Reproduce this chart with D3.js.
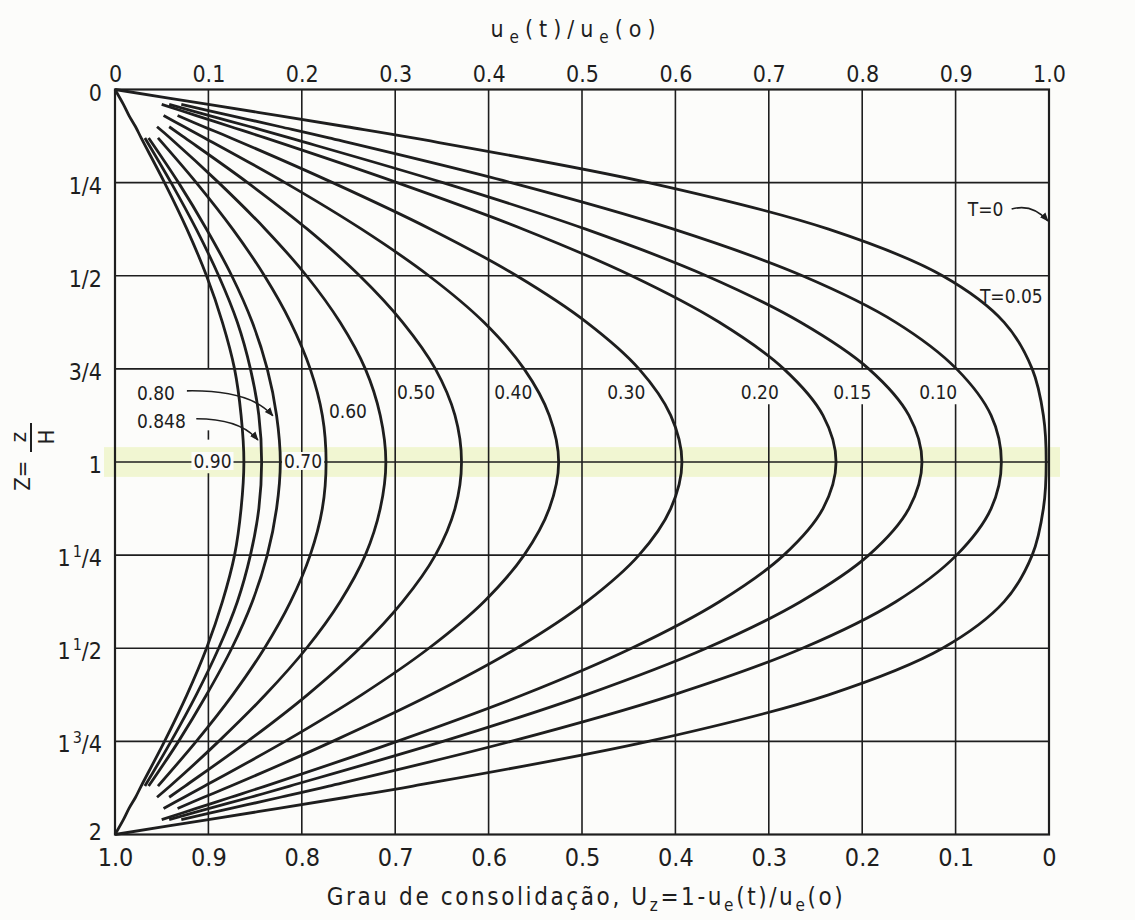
<!DOCTYPE html>
<html>
<head>
<meta charset="utf-8">
<script src="https://cdn.jsdelivr.net/npm/d3@7"></script>
<style>
  body { margin: 0; background: #fcfcfa; }
  svg { display: block; }
  text { font-family: "DejaVu Sans Condensed", "DejaVu Sans", sans-serif; fill: #1e1e1e; }
</style>
</head>
<body>
<svg id="chart" width="1135" height="920"></svg>
<script>
// depth levels Z = z/H where the isochrones were read
const zLevels = [0, 0.04, 0.07, 0.1, 0.13, 0.25, 0.375, 0.5, 0.625, 0.75, 0.875, 1,
  1.125, 1.25, 1.375, 1.5, 1.625, 1.75, 1.87, 1.9, 1.93, 1.96, 2];

// u_e(t)/u_e(o) read off each isochrone (null = curve not drawn there)
const u005 = [0, 0.100, 0.175, 0.248, 0.319, 0.571, 0.764, 0.886, 0.952, 0.982, 0.994, 0.997,
  0.994, 0.982, 0.952, 0.886, 0.764, 0.571, 0.319, 0.248, 0.175, 0.100, 0];
const u010 = [null, 0.071, 0.124, 0.177, 0.229, 0.424, 0.598, 0.736, 0.836, 0.901, 0.938, 0.949,
  0.938, 0.901, 0.836, 0.736, 0.598, 0.424, 0.229, 0.177, 0.124, 0.071, null];
const u015 = [null, 0.058, 0.101, 0.145, 0.187, 0.351, 0.504, 0.633, 0.734, 0.807, 0.850, 0.864,
  0.850, 0.807, 0.734, 0.633, 0.504, 0.351, 0.187, 0.145, 0.101, 0.058, null];
const u020 = [null, 0.050, 0.087, 0.124, 0.161, 0.302, 0.437, 0.553, 0.647, 0.716, 0.758, 0.772,
  0.758, 0.716, 0.647, 0.553, 0.437, 0.302, 0.161, 0.124, 0.087, 0.050, null];
const u030 = [null, null, 0.067, 0.095, 0.124, 0.233, 0.338, 0.430, 0.505, 0.561, 0.595, 0.607,
  0.595, 0.561, 0.505, 0.430, 0.338, 0.233, 0.124, 0.095, 0.067, null, null];
const u040 = [null, null, 0.052, 0.074, 0.096, 0.182, 0.264, 0.336, 0.395, 0.438, 0.465, 0.475,
  0.465, 0.438, 0.395, 0.336, 0.264, 0.182, 0.096, 0.074, 0.052, null, null];
const u050 = [null, null, null, 0.058, 0.075, 0.142, 0.206, 0.262, 0.308, 0.343, 0.364, 0.371,
  0.364, 0.343, 0.308, 0.262, 0.206, 0.142, 0.075, 0.058, null, null, null];
const u060 = [null, null, null, 0.045, 0.059, 0.111, 0.161, 0.205, 0.241, 0.268, 0.284, 0.290,
  0.284, 0.268, 0.241, 0.205, 0.161, 0.111, 0.059, 0.045, null, null, null];
const u070 = [null, null, null, null, 0.046, 0.087, 0.126, 0.160, 0.188, 0.209, 0.222, 0.226,
  0.222, 0.209, 0.188, 0.160, 0.126, 0.087, 0.046, null, null, null, null];
const u080 = [null, null, null, null, 0.036, 0.068, 0.098, 0.125, 0.147, 0.163, 0.173, 0.177,
  0.173, 0.163, 0.147, 0.125, 0.098, 0.068, 0.036, null, null, null, null];
const u0848 = [null, null, null, null, 0.032, 0.060, 0.087, 0.111, 0.131, 0.145, 0.154, 0.157,
  0.154, 0.145, 0.131, 0.111, 0.087, 0.060, 0.032, null, null, null, null];
const u090 = [0, 0.009, 0.015, 0.022, 0.028, 0.053, 0.077, 0.098, 0.115, 0.128, 0.135, 0.138,
  0.135, 0.128, 0.115, 0.098, 0.077, 0.053, 0.028, 0.022, 0.015, 0.009, 0];

const timeFactors = ["0.05", "0.10", "0.15", "0.20", "0.30", "0.40", "0.50", "0.60", "0.70", "0.80", "0.848", "0.90"];
const isoValues = [u005, u010, u015, u020, u030, u040, u050, u060, u070, u080, u0848, u090];

// axes
const topTicks = [0, 0.1, 0.2, 0.3, 0.4, 0.5, 0.6, 0.7, 0.8, 0.9, 1.0];
const zTicks = [0, 0.25, 0.5, 0.75, 1, 1.25, 1.5, 1.75, 2];
const zTickLabels = ["0", "1/4", "1/2", "3/4", "1", "1 1/4", "1 1/2", "1 3/4", "2"];

const svg = d3.select("#chart");
const ink = "#1e1e1e";

const x = d3.scaleLinear().domain([0, 1]).range([115, 1049]);
const xU = d3.scaleLinear().domain([1, 0]).range([115, 1049]); // U_z = 1 - u
const y = d3.scaleLinear().domain([0, 2]).range([89.5, 834.5]);

// highlighter mark across Z = 1 on the scanned page
svg.append("rect")
  .attr("x", 104).attr("width", 956)
  .attr("y", y(0.96)).attr("height", y(1.04) - y(0.96))
  .attr("fill", "#eef4c4").attr("opacity", 0.75);

// gaps in the vertical grid left for the labels
const gridGaps = [
  { u: 0.1, z: [0.75, 0.915] }, { u: 0.1, z: [0.94, 1.03] },
  { u: 0.7, z: [0.75, 0.845] }, { u: 0.8, z: [0.75, 0.845] }, { u: 0.9, z: [0.75, 0.845] }
];

const grid = svg.append("g").attr("stroke", ink).attr("stroke-width", 1.6);

topTicks.slice(1, -1).forEach(u => {
  let segs = [[0, 2]];
  gridGaps.filter(g => g.u === u).forEach(g => {
    segs = segs.flatMap(([a, b]) => {
      if (g.z[1] <= a || g.z[0] >= b) return [[a, b]];
      const out = [];
      if (g.z[0] > a) out.push([a, g.z[0]]);
      if (g.z[1] < b) out.push([g.z[1], b]);
      return out;
    });
  });
  segs.forEach(([a, b]) => {
    grid.append("line")
      .attr("x1", x(u)).attr("x2", x(u))
      .attr("y1", y(a)).attr("y2", y(b));
  });
});

zTicks.slice(1, -1).forEach(z => {
  grid.append("line")
    .attr("x1", x(0)).attr("x2", x(1))
    .attr("y1", y(z)).attr("y2", y(z));
});

svg.append("rect")
  .attr("x", x(0)).attr("y", y(0))
  .attr("width", x(1) - x(0)).attr("height", y(2) - y(0))
  .attr("fill", "none").attr("stroke", ink).attr("stroke-width", 2.2);

// isochrones
const line = d3.line()
  .defined(d => d.u != null)
  .x(d => x(d.u))
  .y(d => y(d.z))
  .curve(d3.curveCatmullRom.alpha(0.5));

svg.append("g")
  .selectAll("path")
  .data(isoValues.map((vals, i) => ({ T: timeFactors[i], pts: zLevels.map((z, j) => ({ z, u: vals[j] })) })))
  .join("path")
  .attr("d", d => line(d.pts))
  .attr("fill", "none")
  .attr("stroke", ink)
  .attr("stroke-width", 2.8)
  .attr("stroke-linejoin", "round");

// top axis u_e(t)/u_e(o)
const fmt = d => d === 0 ? "0" : d.toFixed(1);
svg.append("g")
  .attr("transform", `translate(0,${y(0)})`)
  .call(d3.axisTop(x).tickValues(topTicks).tickSize(0).tickPadding(8).tickFormat(fmt))
  .call(g => g.select(".domain").remove())
  .attr("font-family", null).attr("font-size", 23).attr("color", ink);

// bottom axis U_z
svg.append("g")
  .attr("transform", `translate(0,${y(2)})`)
  .call(d3.axisBottom(xU).tickValues(topTicks).tickSize(0).tickPadding(14).tickFormat(fmt))
  .call(g => g.select(".domain").remove())
  .attr("font-family", null).attr("font-size", 25).attr("color", ink);

// left axis Z labels with mixed fractions
const zLab = svg.append("g").attr("font-size", 23).attr("text-anchor", "end");
zTicks.forEach((z, i) => {
  const parts = zTickLabels[i].split(" ");
  const t = zLab.append("text")
    .attr("x", 102)
    .attr("y", y(z) + (i === zTicks.length - 1 ? 5 : 11));
  if (parts.length === 1) {
    t.text(parts[0]);
  } else {
    const [num, den] = parts[1].split("/");
    t.append("tspan").text(parts[0]);
    t.append("tspan").attr("font-size", 16).attr("dy", -9).attr("dx", 2).text(num);
    t.append("tspan").attr("dy", 9).text("/" + den);
  }
});

// axis titles
const topTitle = svg.append("text")
  .attr("x", 576).attr("y", 37)
  .attr("text-anchor", "middle")
  .attr("font-size", 23)
  .attr("letter-spacing", 6);
topTitle.append("tspan").text("u");
topTitle.append("tspan").attr("font-size", 17).attr("dy", 6).text("e");
topTitle.append("tspan").attr("dy", -6).text("(t)/u");
topTitle.append("tspan").attr("font-size", 17).attr("dy", 6).text("e");
topTitle.append("tspan").attr("dy", -6).text("(o)");

const botTitle = svg.append("text")
  .attr("x", 586).attr("y", 905)
  .attr("text-anchor", "middle")
  .attr("font-size", 24)
  .attr("letter-spacing", 2.6);
botTitle.append("tspan").text("Grau de consolidação, U");
botTitle.append("tspan").attr("font-size", 17).attr("dy", 6).text("z");
botTitle.append("tspan").attr("dy", -6).text("=1-u");
botTitle.append("tspan").attr("font-size", 17).attr("dy", 6).text("e");
botTitle.append("tspan").attr("dy", -6).text("(t)/u");
botTitle.append("tspan").attr("font-size", 17).attr("dy", 6).text("e");
botTitle.append("tspan").attr("dy", -6).text("(o)");

// Z = z/H, rotated
const yTitle = svg.append("g").attr("transform", "translate(31,470) rotate(-90)").attr("font-size", 22);
yTitle.append("text").attr("x", -14).attr("y", -1).attr("text-anchor", "middle").text("Z");
yTitle.append("text").attr("x", 1).attr("y", -1).attr("text-anchor", "middle").text("=");
yTitle.append("line").attr("x1", 18).attr("x2", 47).attr("y1", 0).attr("y2", 0)
  .attr("stroke", ink).attr("stroke-width", 2);
yTitle.append("text").attr("x", 33).attr("y", -5).attr("text-anchor", "middle").text("z");
yTitle.append("text").attr("x", 33).attr("y", 23).attr("text-anchor", "middle").text("H");

// curve labels, placed in data units
const labelSpots = [
  { text: "T=0", u: 0.913, z: 0.34 },
  { text: "T=0.05", u: 0.926, z: 0.573 },
  { text: "0.10", u: 0.861, z: 0.83 },
  { text: "0.15", u: 0.769, z: 0.83 },
  { text: "0.20", u: 0.670, z: 0.83 },
  { text: "0.30", u: 0.527, z: 0.83 },
  { text: "0.40", u: 0.406, z: 0.83 },
  { text: "0.50", u: 0.302, z: 0.83 },
  { text: "0.60", u: 0.229, z: 0.881 },
  { text: "0.80", u: 0.0235, z: 0.834 },
  { text: "0.848", u: 0.0235, z: 0.909 },
  { text: "0.70", u: 0.181, z: 1.016, halo: true },
  { text: "0.90", u: 0.084, z: 1.016, halo: true }
];

const labs = svg.append("g").attr("font-size", 19);
labelSpots.forEach(d => {
  const t = labs.append("text")
    .attr("x", x(d.u)).attr("y", y(d.z))
    .text(d.text);
  if (d.halo) {
    const b = t.node().getBBox();
    labs.insert("rect", () => t.node())
      .attr("x", b.x - 2).attr("y", b.y + 2)
      .attr("width", b.width + 4).attr("height", b.height - 4)
      .attr("fill", "#fcfcfa");
  }
});

// arrows pointing labels to their curves
svg.append("defs").append("marker")
  .attr("id", "head")
  .attr("viewBox", "0 0 10 10")
  .attr("refX", 9).attr("refY", 5)
  .attr("markerWidth", 9).attr("markerHeight", 9)
  .attr("markerUnits", "userSpaceOnUse")
  .attr("orient", "auto")
  .append("path").attr("d", "M0,1 L10,5 L0,9 Z").attr("fill", ink);

const arrows = [
  { from: [0.077, 0.809], ctrl: [0.145, 0.806], to: [0.169, 0.876] },
  { from: [0.087, 0.884], ctrl: [0.134, 0.884], to: [0.153, 0.941] },
  { from: [0.960, 0.321], ctrl: [0.982, 0.305], to: [0.999, 0.353] }
];
arrows.forEach(a => {
  const p = d3.path();
  p.moveTo(x(a.from[0]), y(a.from[1]));
  p.quadraticCurveTo(x(a.ctrl[0]), y(a.ctrl[1]), x(a.to[0]), y(a.to[1]));
  svg.append("path")
    .attr("d", p.toString())
    .attr("fill", "none")
    .attr("stroke", ink)
    .attr("stroke-width", 1.6)
    .attr("marker-end", "url(#head)");
});
</script>
</body>
</html>
